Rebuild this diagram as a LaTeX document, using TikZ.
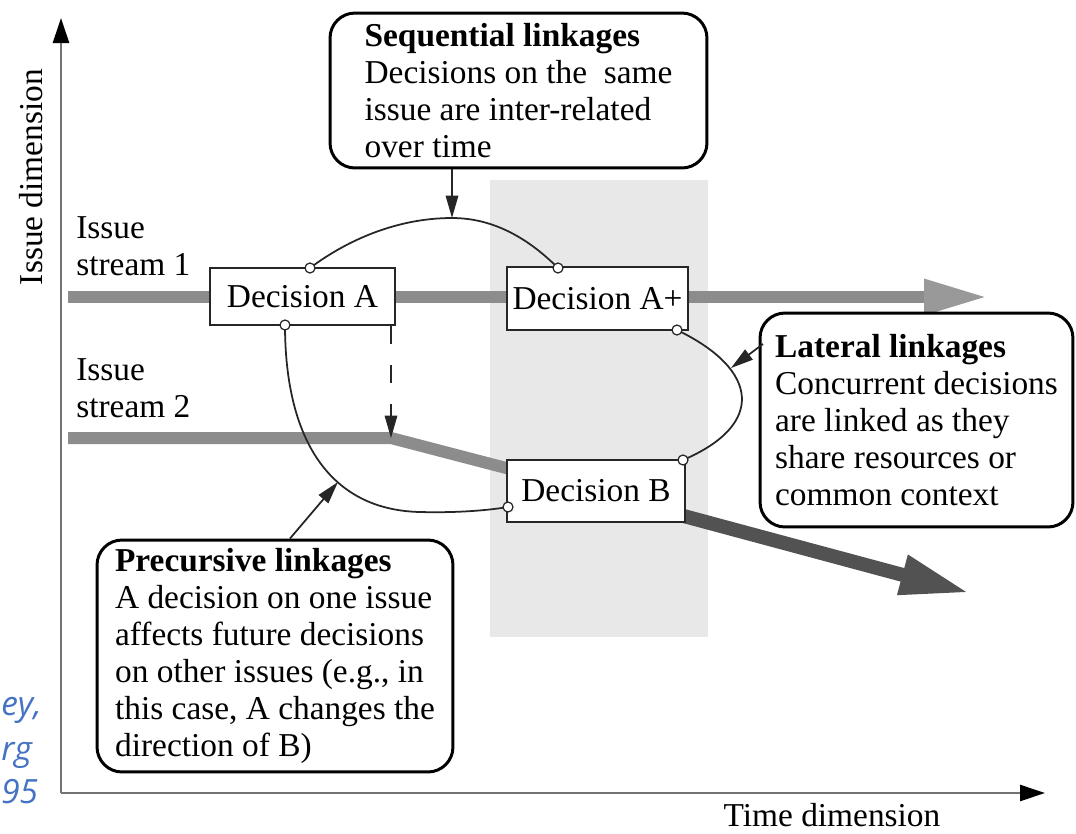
\documentclass[tikz,border=0pt]{standalone}
\usepackage{fontspec}
\setmainfont{Liberation Serif}
\newfontfamily\notefont{Open Sans}
\usetikzlibrary{arrows.meta}
\definecolor{notecolor}{HTML}{4472C4}
\begin{document}
\begin{tikzpicture}[x=0.02cm,y=-0.02cm,
  every node/.style={font=\fontsize{19}{21}\selectfont},
  decision/.style={draw=black!85, line width=1.1pt, fill=white, inner sep=0pt},
  linkbox/.style={draw=black, line width=1.7pt, rounded corners=0.5cm, fill=white, align=left, inner sep=0pt},
  link/.style={line width=1pt, draw=black!85},
  ptr/.style={link, -{Triangle[length=0.45cm,width=0.25cm]}},
  port/.style={circle, draw=black!85, fill=white, line width=0.7pt, inner sep=0pt, minimum size=0.2cm},
  axis/.style={draw=black!55, line width=1.5pt, -{Triangle[length=0.5cm,width=0.32cm,color=black]}},
  bar/.style={line width=0.24cm, draw=black!45},
  streamlabel/.style={align=left, anchor=west, inner sep=0pt},
  note/.style={anchor=base west, inner sep=0pt, text=notecolor, font=\notefont\itshape\fontsize{19}{19}\selectfont}
]
\useasboundingbox (0,0) rectangle (1076,833);
\fill[white] (0,0) rectangle (1076,833);

% shaded period of the concurrent decisions
\fill[black!9] (490,180) rectangle (708,637);

% axes
\coordinate (origin) at (61,793);
\coordinate (ytop) at (61,18);
\coordinate (xend) at (1045,793);
\draw[axis] (origin) -- (ytop);
\draw[axis] (origin) -- (xend);
\node[rotate=90, anchor=base, inner sep=0pt] (ydim) at (42,177) {Issue dimension};
\node[anchor=base, inner sep=0pt] (xdim) at (832,826) {Time dimension};

% stream labels
\node[streamlabel] (s1lab) at (76,246) {Issue\\stream 1};
\node[streamlabel] (s2lab) at (76,388) {Issue\\stream 2};

% issue stream 1
\coordinate (s1start) at (68,297);
\coordinate (s1end) at (988,297);
\draw[bar, -{Triangle[length=1.28cm,width=0.66cm,color=black!40]}] (s1start) -- (s1end);

% issue stream 2, bent by decision A
\coordinate (s2start) at (68,438);
\coordinate (s2bend) at (391,438);
\coordinate (s2in) at (510,469);
\draw[bar] (s2start) -- (s2bend) -- (s2in);
\coordinate (s2out) at (680,515);
\coordinate (s2end) at (970,593);
\draw[bar, line width=0.28cm, draw=black!68, -{Triangle[length=1.4cm,width=0.75cm]}] (s2out) -- (s2end);

% decisions
\node[decision, minimum width=3.7cm, minimum height=1.14cm] (A) at (302.5,296.5) {Decision A};
\node[decision, minimum width=3.62cm, minimum height=1.26cm] (Ap) at (597.5,298.5) {Decision A+};
\node[decision, minimum width=3.56cm, minimum height=1.24cm] (B) at (596,491) {Decision B};

% linkage descriptions
\node[linkbox, minimum width=7.54cm, minimum height=3.1cm] (seq) at (518.5,90.5)
  {\textbf{Sequential linkages}\\Decisions on the\ \ same\\issue are inter-related\\over time};
\node[linkbox, minimum width=7.12cm, minimum height=4.64cm] (pre) at (275,656)
  {\textbf{Precursive linkages}\\A decision on one issue\\affects future decisions\\on other issues (e.g., in\\this case, A changes the\\direction of B)};
\node[linkbox, minimum width=6.26cm, minimum height=4.28cm] (lat) at (916.5,420)
  {\textbf{Lateral linkages}\\Concurrent decisions\\are linked as they\\share resources or\\common context};

% linkage curves between decisions
\coordinate (pA1) at (310,268);
\coordinate (pAp1) at (558,268);
\coordinate (pA2) at (285,325);
\coordinate (pB1) at (508,507);
\coordinate (pAp2) at (677,330);
\coordinate (pB2) at (683,460);
\coordinate (seqpeak) at (452,218);
\draw[link] (pA1) .. controls (350,238) and (400,218) .. (seqpeak)
  .. controls (495,218) and (530,240) .. (pAp1);
\draw[link] (pA2) .. controls (285,440) and (330,510) .. (420,512)
  .. controls (460,513) and (490,510) .. (pB1);
\draw[link] (pAp2) .. controls (760,370) and (765,425) .. (pB2);

% pointers from the descriptions
\coordinate (pretip) at (338,482);
\coordinate (prefoot) at (290,540);
\coordinate (lattip) at (731,368);
\coordinate (latfoot) at (763,344);
\draw[ptr] (seq.south -| seqpeak) -- (seqpeak);
\draw[ptr] (pre.north -| prefoot) -- (pretip);
\draw[ptr] (latfoot) -- (lattip);

% influence of A on stream 2
\draw[ptr, dash pattern=on 0.36cm off 0.42cm] (A.south -| s2bend) -- (s2bend);

% connection ports
\foreach \p in {pA1,pAp1,pA2,pB1,pAp2,pB2}
  \node[port] (c-\p) at (\p) {};

% source note fragments
\node[note] (n1) at (1,715) {ey,};
\node[note] (n2) at (1,760) {rg};
\node[note] (n3) at (1,803) {95};
\end{tikzpicture}
\end{document}
